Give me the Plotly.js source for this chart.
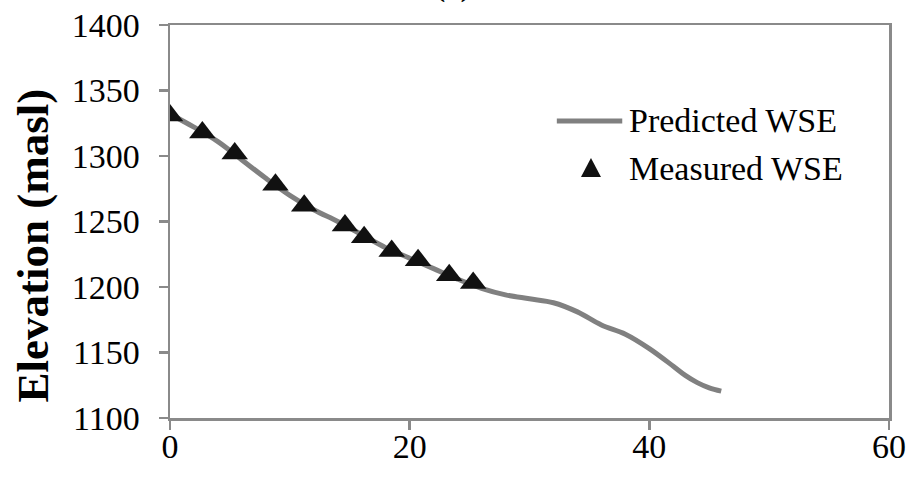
<!DOCTYPE html>
<html>
<head>
<meta charset="utf-8">
<script src="https://cdn.plot.ly/plotly-3.0.1.min.js"></script>
<style>
  html, body { margin: 0; padding: 0; background: #ffffff; }
  #chart { width: 914px; height: 477px; }
</style>
</head>
<body>
<div id="chart"></div>
<script>
// Predicted water surface elevation along the reach (km, masl)
const predictedDistance = [0, 2, 4, 6, 8, 10, 12, 14, 16, 18, 20, 22, 24, 26, 28, 30, 32, 34, 36, 38, 40, 42, 43, 44, 45, 46];
const predictedWSE = [1332, 1322, 1311, 1297, 1283, 1270, 1259, 1250, 1240, 1230, 1222, 1214, 1206, 1199, 1194, 1191, 1188, 1181, 1171, 1164, 1153, 1139.5, 1132.5, 1127, 1123, 1120.5];

// Measured water surface elevation at gauging points
const measuredDistance = [0, 2.7, 5.4, 8.8, 11.2, 14.6, 16.2, 18.5, 20.7, 23.3, 25.3];
const measuredWSE = [1331, 1318, 1302, 1278, 1262, 1247, 1238, 1227.5, 1220.5, 1209, 1203];

// Axis ticks
const xTicks = [0, 20, 40, 60];
const yTicks = [1100, 1150, 1200, 1250, 1300, 1350, 1400];

const seriesNames = ['Predicted WSE', 'Measured WSE'];

const serif = '"Liberation Serif", "Times New Roman", serif';
const axisGrey = '#8a8a8a';
const lineGrey = '#808080';

const traces = [
  {
    x: predictedDistance,
    y: predictedWSE,
    type: 'scatter',
    mode: 'lines',
    name: seriesNames[0],
    line: { color: lineGrey, width: 5, shape: 'spline', smoothing: 1 },
    showlegend: false,
    hoverinfo: 'skip'
  },
  {
    x: measuredDistance,
    y: measuredWSE,
    type: 'scatter',
    mode: 'markers',
    name: seriesNames[1],
    marker: { symbol: 'triangle-up', size: 23, color: '#111111' },
    showlegend: false,
    hoverinfo: 'skip'
  }
];

const axisCommon = {
  showgrid: false,
  zeroline: false,
  showline: true,
  linecolor: axisGrey,
  linewidth: 2.5,
  mirror: true,
  ticks: 'outside',
  ticklen: 9,
  tickwidth: 2.5,
  tickcolor: axisGrey,
  tickfont: { family: serif, size: 34, color: '#000000' }
};

// Legend drawn beside the curves: a line sample, a triangle sample, and labels
const legendX0 = 0.538, legendX1 = 0.629, legendTextX = 0.636;
const legendY1 = 0.756, legendY2 = 0.636;

const layout = {
  width: 914,
  height: 477,
  margin: { l: 170, r: 25, t: 25, b: 59 },
  paper_bgcolor: '#ffffff',
  plot_bgcolor: '#ffffff',
  showlegend: false,
  xaxis: Object.assign({}, axisCommon, {
    range: [0, 60],
    tickvals: xTicks,
    ticktext: xTicks.map(String),
    ticklabelstandoff: -12
  }),
  yaxis: Object.assign({}, axisCommon, {
    range: [1100, 1400],
    tickvals: yTicks,
    ticktext: yTicks.map(String),
    ticklabelstandoff: 12
  }),
  shapes: [
    {
      type: 'line', xref: 'paper', yref: 'paper',
      x0: legendX0, x1: legendX1, y0: legendY1, y1: legendY1,
      line: { color: lineGrey, width: 5 }
    },
    {
      type: 'path', xref: 'paper', yref: 'paper',
      xsizemode: 'pixel', ysizemode: 'pixel',
      xanchor: 0.5855, yanchor: legendY2,
      path: 'M-10,-9 L10,-9 L0,10 Z',
      fillcolor: '#111111', line: { width: 0 }
    }
  ],
  annotations: [
    {
      text: seriesNames[0], xref: 'paper', yref: 'paper',
      x: legendTextX, y: legendY1, xanchor: 'left', yanchor: 'middle',
      showarrow: false, font: { family: serif, size: 34, color: '#000000' }
    },
    {
      text: seriesNames[1], xref: 'paper', yref: 'paper',
      x: legendTextX, y: legendY2, xanchor: 'left', yanchor: 'middle',
      showarrow: false, font: { family: serif, size: 34, color: '#000000' }
    },
    {
      text: '<b>Elevation (masl)</b>', xref: 'paper', yref: 'paper',
      x: -0.19, y: 0.44, xanchor: 'center', yanchor: 'middle',
      textangle: -90, showarrow: false,
      font: { family: serif, size: 45, color: '#000000' }
    },
    {
      text: '(a)', xref: 'paper', yref: 'paper',
      x: 0.394, y: 1.051, xanchor: 'center', yanchor: 'bottom',
      showarrow: false, font: { family: serif, size: 34, color: '#000000' }
    }
  ]
};

Plotly.newPlot('chart', traces, layout, { staticPlot: true, displayModeBar: false });
</script>
</body>
</html>
